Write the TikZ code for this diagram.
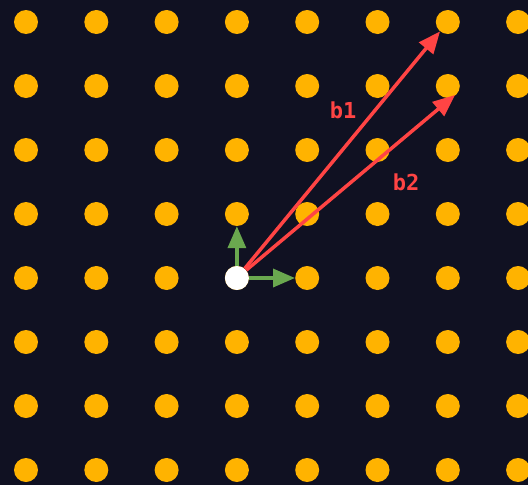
\documentclass[tikz,border=0pt]{standalone}
\usepackage{fontspec}
\newfontfamily\labelfont[UprightFont={* Bold}]{DejaVu Sans Mono}
\usepackage{xcolor}
\definecolor{nightbg}{RGB}{16, 17, 34}
\definecolor{latticeorange}{RGB}{255, 179, 0}
\definecolor{basisred}{RGB}{255, 68, 68}
\definecolor{unitgreen}{RGB}{106, 168, 79}
\usetikzlibrary{arrows.meta}

\begin{document}
\begin{tikzpicture}[x=1pt, y=-1pt,
        lattice/.style={circle, fill=latticeorange, inner sep=0pt, minimum size=24pt},
        origin/.style={circle, fill=white, inner sep=0pt, minimum size=24pt},
        basis/.style={draw=basisred, line width=3.5pt, -{Triangle[length=22pt, width=18pt]}},
        unit/.style={draw=unitgreen, line width=3.5pt, -{Triangle[length=22pt, width=18pt]}},
        veclabel/.style={text=basisred, font=\labelfont\fontsize{22}{22}\selectfont}]

        \fill [nightbg] (0,0) rectangle (528,485);
        \useasboundingbox (0,0) rectangle (528,485);

        % lattice points
        \foreach \i in {0,...,7}
            \foreach \j in {0,...,7}
                \node [lattice] (p-\i-\j) at ({26+70.3*\i}, {22+64*\j}) {};

        \node [origin] (o) at (p-3-4) {};
        \coordinate (b2tip) at (455,95);

        \path [unit] (o) -- (p-3-3);
        \path [unit] (o) -- (p-4-4);

        \path [basis] (o) -- (p-6-0);
        \path [basis] (o) -- (b2tip);

        \node [veclabel] (b1) at (343,110) {b1};
        \node [veclabel] (b2) at (406,182) {b2};
    \end{tikzpicture}
\end{document}
